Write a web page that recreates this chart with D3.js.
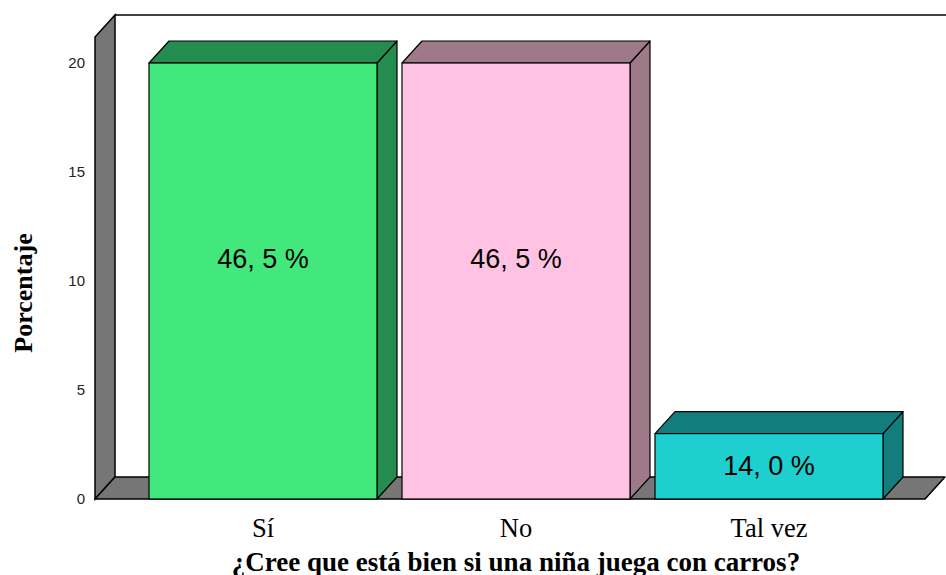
<!DOCTYPE html>
<html>
<head>
<meta charset="utf-8">
<script src="https://cdn.jsdelivr.net/npm/d3@7"></script>
<style>
  body { margin: 0; background: #fff; }
  svg { display: block; }
</style>
</head>
<body>
<div id="chart"></div>
<script>
// data
const categories = ["Sí", "No", "Tal vez"];
const values = [20, 20, 3];
const barLabels = ["46, 5 %", "46, 5 %", "14, 0 %"];
const yTicks = [0, 5, 10, 15, 20];
const frontColors = ["#42e87c", "#ffc2e2", "#1ecfcf"];
const darkColors = ["#248c4e", "#9e7a88", "#137d7d"];

const width = 946, height = 575;
const dx = 20, dy = -22; // depth of the 3d boxes

const svg = d3.select("#chart")
    .append("svg")
    .attr("width", width)
    .attr("height", height);

const y = d3.scaleLinear()
    .domain([0, 20])
    .range([499, 63]);

const x = d3.scaleBand()
    .domain(categories)
    .range([136.5, 895.5])
    .paddingInner(25 / 253)
    .paddingOuter(0.0494);

const x0 = 95, x1 = 925; // front edges of the floor

// back wall top edge
svg.append("line")
    .attr("x1", x0 + dx).attr("y1", y(20) + dy - 26)
    .attr("x2", width + 5).attr("y2", y(20) + dy - 26)
    .attr("stroke", "#000").attr("stroke-width", 1.5);

// left wall
const wallTop = y(20) - 26;
svg.append("path")
    .attr("d", `M${x0},${y(0)} L${x0},${wallTop} L${x0 + dx},${wallTop + dy} L${x0 + dx},${y(0) + dy} Z`)
    .attr("fill", "#767676")
    .attr("stroke", "#000").attr("stroke-width", 1.5);

// floor
svg.append("path")
    .attr("d", `M${x0},${y(0)} L${x1},${y(0)} L${x1 + dx},${y(0) + dy} L${x0 + dx},${y(0) + dy} Z`)
    .attr("fill", "#767676")
    .attr("stroke", "#000").attr("stroke-width", 1.5)
    .attr("stroke-linejoin", "round");

// y tick labels
svg.append("g")
    .selectAll("text")
    .data(yTicks)
    .enter()
    .append("text")
        .attr("x", 85)
        .attr("y", d => y(d))
        .attr("dy", "0.36em")
        .attr("text-anchor", "end")
        .attr("font-family", "Liberation Sans, Arial, sans-serif")
        .attr("font-size", 15)
        .attr("fill", "#222")
        .text(d => d);

// bars as 3d boxes
const bars = svg.append("g")
    .selectAll("g")
    .data(categories)
    .enter()
    .append("g");

bars.each(function (c, i) {
    const g = d3.select(this);
    const left = x(c), right = x(c) + x.bandwidth();
    const top = y(values[i]), bottom = y(0);

    // side
    g.append("path")
        .attr("d", `M${right},${bottom} L${right},${top} L${right + dx},${top + dy} L${right + dx},${bottom + dy} Z`)
        .attr("fill", darkColors[i])
        .attr("stroke", "#000").attr("stroke-width", 1.2).attr("stroke-linejoin", "round");
    // top
    g.append("path")
        .attr("d", `M${left},${top} L${left + dx},${top + dy} L${right + dx},${top + dy} L${right},${top} Z`)
        .attr("fill", darkColors[i])
        .attr("stroke", "#000").attr("stroke-width", 1.2).attr("stroke-linejoin", "round");
    // front
    g.append("rect")
        .attr("x", left)
        .attr("y", top)
        .attr("width", x.bandwidth())
        .attr("height", bottom - top)
        .attr("fill", frontColors[i])
        .attr("stroke", "#000").attr("stroke-width", 1.2);
    // label
    g.append("text")
        .attr("x", left + x.bandwidth() / 2)
        .attr("y", y(Math.max(values[i] / 2, values[i] - 9)))
        .attr("dy", "0.34em")
        .attr("text-anchor", "middle")
        .attr("font-family", "Liberation Sans, Arial, sans-serif")
        .attr("font-size", 27)
        .attr("fill", "#000")
        .text(barLabels[i]);
});

// category labels
svg.append("g")
    .selectAll("text")
    .data(categories)
    .enter()
    .append("text")
        .attr("x", d => x(d) + x.bandwidth() / 2)
        .attr("y", 537)
        .attr("text-anchor", "middle")
        .attr("font-family", "Liberation Serif, Times New Roman, serif")
        .attr("font-size", 26.5)
        .attr("fill", "#000")
        .text(d => d);

// axis titles
svg.append("text")
    .attr("x", 516)
    .attr("y", 571)
    .attr("text-anchor", "middle")
    .attr("font-family", "Liberation Serif, Times New Roman, serif")
    .attr("font-weight", "bold")
    .attr("font-size", 27)
    .text("¿Cree que está bien si una niña juega con carros?");

svg.append("text")
    .attr("transform", "translate(32,293) rotate(-90)")
    .attr("text-anchor", "middle")
    .attr("font-family", "Liberation Serif, Times New Roman, serif")
    .attr("font-weight", "bold")
    .attr("font-size", 26)
    .text("Porcentaje");
</script>
</body>
</html>
